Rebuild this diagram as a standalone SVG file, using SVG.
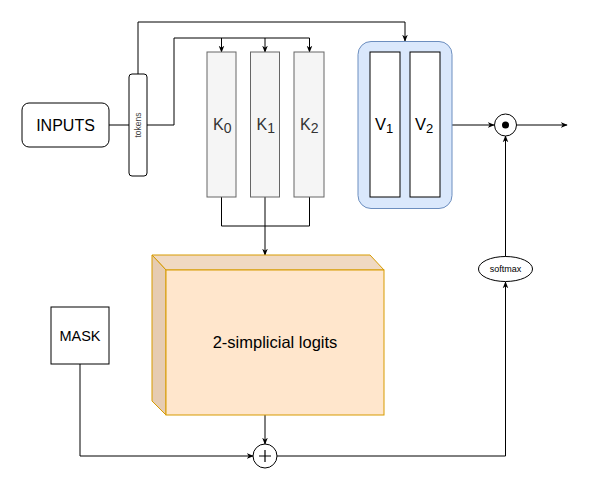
<svg xmlns="http://www.w3.org/2000/svg" width="595" height="487" viewBox="0 0 595 487">
<defs>
<style>
.ln{fill:none;stroke:#000;stroke-width:1}
.txt{font-family:"Liberation Sans",Arial,sans-serif;fill:#000}
.k{fill:#f5f5f5;stroke:#666;stroke-width:1}
.ktxt{font-family:"Liberation Sans",Arial,sans-serif;fill:#333;font-size:16px}
.v{fill:#fff;stroke:#000;stroke-width:1}
</style>
<marker id="ah" viewBox="0 0 10 10" refX="9" refY="5" markerWidth="7" markerHeight="7" orient="auto" markerUnits="userSpaceOnUse">
<path d="M0,1 L10,5 L0,9 L3,5 z" fill="#000"/>
</marker>
</defs>
<rect width="595" height="487" fill="#fff"/>
<g id="connectors">
<path class="ln" d="M109,125 H129"/>
<path class="ln" d="M138,74 V22 H405 V41" marker-end="url(#ah)"/>
<path class="ln" d="M147,125 H174 V38 H309.5 V52" marker-end="url(#ah)"/>
<path class="ln" d="M221.5,38 V52" marker-end="url(#ah)"/>
<path class="ln" d="M265,38 V52" marker-end="url(#ah)"/>
<path class="ln" d="M221.5,197 V226 H309.5 V197"/>
<path class="ln" d="M265,197 V255" marker-end="url(#ah)"/>
<path class="ln" d="M452,125 H494" marker-end="url(#ah)"/>
<path class="ln" d="M517,125 H567" marker-end="url(#ah)"/>
<path class="ln" d="M505.5,257 V136" marker-end="url(#ah)"/>
<path class="ln" d="M265,415 V444" marker-end="url(#ah)"/>
<path class="ln" d="M80,364 V456 H253" marker-end="url(#ah)"/>
<path class="ln" d="M277,456 H505.5 V282" marker-end="url(#ah)"/>
</g>
<g id="inputs">
<rect x="22" y="103" width="87" height="44" rx="7" fill="#fff" stroke="#000"/>
<text class="txt" x="65.5" y="131" font-size="16" text-anchor="middle">INPUTS</text>
</g>
<g id="tokens">
<rect x="129" y="74" width="18" height="102" rx="3" fill="#fff" stroke="#000"/>
<text class="txt" transform="translate(141,125) rotate(-90)" font-size="8.5" text-anchor="middle" style="fill:#444">tokens</text>
</g>
<g id="k0">
<rect class="k" x="207" y="52" width="29" height="145"/>
<text class="ktxt" x="213" y="130">K<tspan font-size="14" dy="3">0</tspan></text>
</g>
<g id="k1">
<rect class="k" x="250.5" y="52" width="29" height="145"/>
<text class="ktxt" x="256.5" y="130">K<tspan font-size="14" dy="3">1</tspan></text>
</g>
<g id="k2">
<rect class="k" x="294" y="52" width="30" height="145"/>
<text class="ktxt" x="300" y="130">K<tspan font-size="14" dy="3">2</tspan></text>
</g>
<g id="vgroup">
<rect x="358" y="41.5" width="94" height="167" rx="13" fill="#dae8fc" stroke="#6c8ebf"/>
<rect class="v" x="370" y="52" width="30" height="145"/>
<text class="txt" x="375" y="130" font-size="16.5">V<tspan font-size="13" dy="3">1</tspan></text>
<rect class="v" x="410" y="52" width="30" height="145"/>
<text class="txt" x="415" y="130" font-size="16.5">V<tspan font-size="13" dy="3">2</tspan></text>
</g>
<g id="odot">
<circle cx="505.5" cy="125" r="11" fill="#fff" stroke="#000"/>
<circle cx="505.5" cy="125" r="3.5" fill="#000"/>
</g>
<g id="softmax">
<ellipse cx="505.5" cy="269" rx="27" ry="12.5" fill="#fff" stroke="#000"/>
<text class="txt" x="505.5" y="272" font-size="9" text-anchor="middle">softmax</text>
</g>
<g id="logits">
<polygon points="152,255 370,255 384,270 166,270" fill="#f0d9c2" stroke="#d79b00"/>
<polygon points="152,255 166,270 166,415 152,401" fill="#e6ccb2" stroke="#d79b00"/>
<rect x="166" y="270" width="218" height="145" fill="#ffe6cc" stroke="#d79b00"/>
<text class="txt" x="275" y="348" font-size="16.5" text-anchor="middle">2-simplicial logits</text>
</g>
<g id="mask">
<rect x="51" y="307" width="58" height="57" fill="#fff" stroke="#000"/>
<text class="txt" x="80" y="341" font-size="14.5" text-anchor="middle">MASK</text>
</g>
<g id="plus">
<circle cx="265" cy="456" r="12" fill="#fff" stroke="#000"/>
<path d="M259,456 H271 M265,450 V462" stroke="#000" stroke-width="1.2"/>
</g>
</svg>
